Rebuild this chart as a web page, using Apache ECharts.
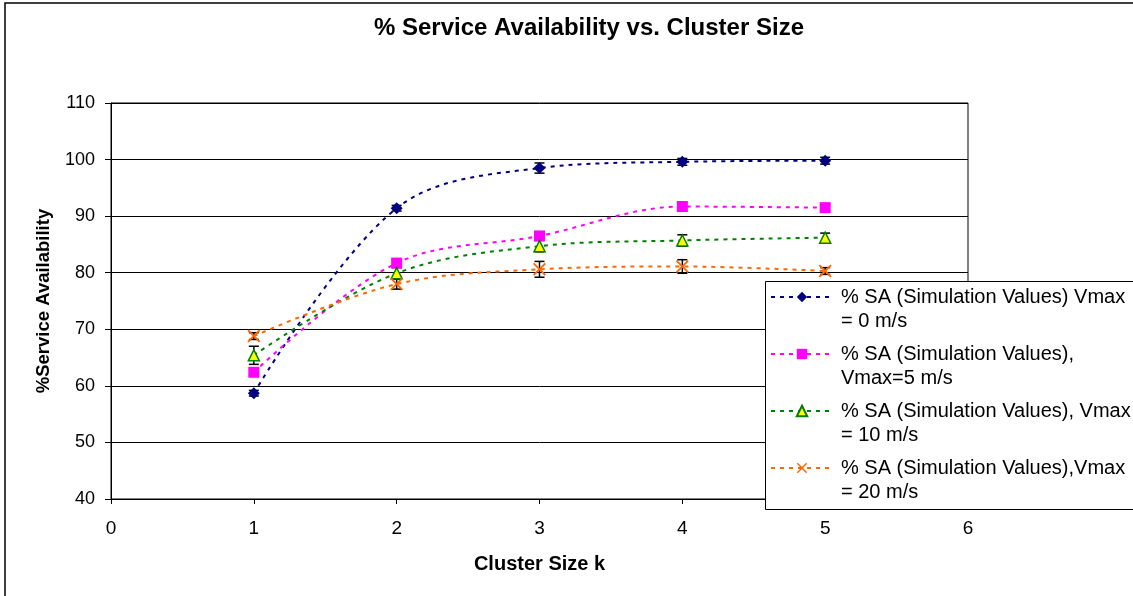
<!DOCTYPE html>
<html>
<head>
<meta charset="utf-8">
<script src="https://cdn.jsdelivr.net/npm/echarts@6/dist/echarts.min.js"></script>
<style>
  html, body { margin: 0; padding: 0; background: #fff; }
  #chart { width: 1133px; height: 596px; }
</style>
</head>
<body>
<div id="chart"></div>
<script>
// Cluster size k and measured % service availability per maximum node speed
const clusterSizes = [1, 2, 3, 4, 5];
const xTicks = [0, 1, 2, 3, 4, 5, 6];
const yTicks = [40, 50, 60, 70, 80, 90, 100, 110];

const saV0  = [58.7, 91.4, 98.5, 99.6, 99.8];
const saV5  = [62.4, 81.7, 86.5, 91.7, 91.5];
const saV10 = [65.4, 79.9, 84.7, 85.7, 86.2];
const saV20 = [68.8, 78.0, 80.6, 81.1, 80.3];

// half-width of the error bar around each value
const errV0  = [0.5, 0.5, 0.9, 0.6, 0.6];
const errV5  = [0.5, 0.6, 0.7, 0.6, 0.5];
const errV10 = [1.6, 1.0, 1.0, 1.0, 0.8];
const errV20 = [0.6, 0.9, 1.4, 1.2, 0.6];

const names = [
  '% SA (Simulation Values) Vmax\n= 0 m/s',
  '% SA (Simulation Values),\nVmax=5 m/s',
  '% SA (Simulation Values), Vmax\n= 10 m/s',
  '% SA (Simulation Values),Vmax\n= 20 m/s'
];

const FONT = 'Liberation Sans, Arial, sans-serif';
const crossPath = 'path://M0,2 L2,0 L10,8 L18,0 L20,2 L12,10 L20,18 L18,20 L10,12 L2,20 L0,18 L8,10 Z';

function pairs(values) {
  return clusterSizes.map((k, i) => [k, values[i]]);
}
function errRows(values, errs) {
  return clusterSizes.map((k, i) => [k, values[i] - errs[i], values[i] + errs[i]]);
}

function lineSeries(name, values, color, symbol, size, itemStyle) {
  return {
    type: 'line',
    name: name,
    data: pairs(values),
    smooth: 0.35,
    symbol: symbol,
    symbolSize: size,
    showAllSymbol: true,
    z: 5,
    lineStyle: { color: color, width: 2, type: [4, 5] },
    itemStyle: itemStyle || { color: color },
    emphasis: { disabled: true }
  };
}

function errorSeries(values, errs) {
  return {
    type: 'custom',
    data: errRows(values, errs),
    encode: { x: 0, y: [1, 2] },
    z: 3,
    silent: true,
    renderItem: function (params, api) {
      const x = api.value(0);
      const lo = api.coord([x, api.value(1)]);
      const hi = api.coord([x, api.value(2)]);
      const w = 5;
      const style = { stroke: '#000', lineWidth: 1.5, fill: null };
      return {
        type: 'group',
        children: [
          { type: 'line', shape: { x1: lo[0], y1: lo[1], x2: hi[0], y2: hi[1] }, style: style },
          { type: 'line', shape: { x1: lo[0] - w, y1: lo[1], x2: lo[0] + w, y2: lo[1] }, style: style },
          { type: 'line', shape: { x1: hi[0] - w, y1: hi[1], x2: hi[0] + w, y2: hi[1] }, style: style }
        ]
      };
    }
  };
}

const chart = echarts.init(document.getElementById('chart'), null, { renderer: 'canvas' });

chart.setOption({
  animation: false,
  backgroundColor: '#fff',
  textStyle: { fontFamily: FONT },
  title: {
    text: '% Service Availability vs. Cluster Size',
    left: 584,
    top: 11,
    textAlign: 'center',
    textStyle: { fontFamily: FONT, fontSize: 24, fontWeight: 'bold', color: '#000' }
  },
  graphic: [
    {
      type: 'rect',
      z: -10,
      silent: true,
      shape: { x: 5, y: 3, width: 1200, height: 700 },
      style: { fill: null, stroke: '#000', lineWidth: 1.5 }
    },
    {
      type: 'rect',
      z: 20,
      silent: true,
      shape: { x: 765.5, y: 281.5, width: 500, height: 228 },
      style: { fill: '#fff', stroke: '#000', lineWidth: 1 }
    }
  ],
  grid: {
    left: 111,
    right: 165,
    top: 103,
    bottom: 97,
    show: true,
    borderColor: '#000',
    borderWidth: 1,
    backgroundColor: '#fff'
  },
  legend: {
    left: 770,
    top: 261,
    orient: 'vertical',
    padding: 0,
    z: 30,
    itemGap: -15,
    itemWidth: 62,
    itemHeight: 13,
    selectedMode: false,
    data: names,
    // a blank first line keeps the key centred on the first text line
    formatter: function (name) { return '\n' + name; },
    textStyle: {
      fontFamily: FONT,
      fontSize: 20,
      lineHeight: 24,
      color: '#000',
      padding: [0, 0, 0, 3]
    }
  },
  xAxis: {
    type: 'value',
    min: xTicks[0],
    max: xTicks[xTicks.length - 1],
    interval: 1,
    name: 'Cluster Size k',
    nameLocation: 'middle',
    nameGap: 55,
    nameTextStyle: { fontFamily: FONT, fontSize: 20, fontWeight: 'bold', color: '#000' },
    axisLine: { show: true, onZero: false, lineStyle: { color: '#000', width: 1 } },
    axisTick: { show: true, inside: false, length: 5, lineStyle: { color: '#000' } },
    axisLabel: { fontFamily: FONT, fontSize: 19, color: '#000', margin: 20 },
    splitLine: { show: false }
  },
  yAxis: {
    type: 'value',
    min: yTicks[0],
    max: yTicks[yTicks.length - 1],
    interval: 10,
    name: '%Service Availability',
    nameLocation: 'middle',
    nameGap: 58,
    nameTextStyle: { fontFamily: FONT, fontSize: 18.5, fontWeight: 'bold', color: '#000' },
    axisLine: { show: true, lineStyle: { color: '#000', width: 1 } },
    axisTick: { show: true, inside: false, length: 6, lineStyle: { color: '#000' } },
    axisLabel: { fontFamily: FONT, fontSize: 18, color: '#000', margin: 16 },
    splitLine: { show: true, lineStyle: { color: '#000', width: 1 } }
  },
  series: [
    errorSeries(saV0, errV0),
    errorSeries(saV5, errV5),
    errorSeries(saV10, errV10),
    errorSeries(saV20, errV20),
    lineSeries(names[0], saV0, '#000080', 'diamond', 12),
    lineSeries(names[1], saV5, '#FF00FF', 'rect', 11),
    lineSeries(names[2], saV10, '#008000', 'triangle', 11,
      { color: '#FFFF00', borderColor: '#008000', borderWidth: 1.5 }),
    lineSeries(names[3], saV20, '#FF6600', crossPath, 13)
  ]
});
</script>
</body>
</html>
